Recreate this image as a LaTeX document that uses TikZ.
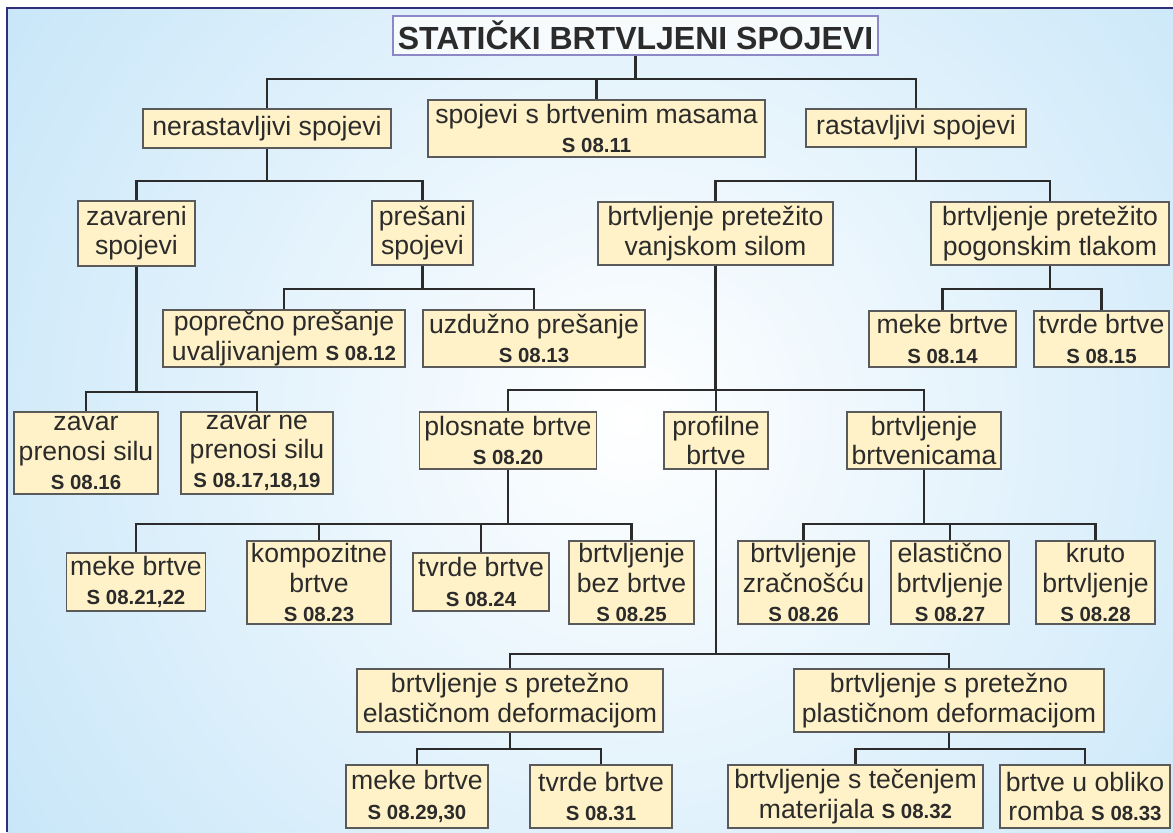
\documentclass[tikz,border=0pt]{standalone}
\usepackage{fontspec}
\setmainfont{Liberation Sans}
\usepackage{xcolor}
\usepackage{tikz}
\definecolor{bkcream}{HTML}{FFF2C8}
\definecolor{bkink}{HTML}{2B2B2B}
\definecolor{bkedge}{HTML}{5A5A5A}
\definecolor{bksky}{HTML}{A0D4F4}
\definecolor{bkframe}{HTML}{2E2E7A}
\definecolor{bktitle}{HTML}{8C88C8}
\newcommand\sref[1]{{\fontsize{10.2}{10}\selectfont\bfseries #1}}
\tikzset{
  bbox/.style 2 args={rectangle, draw=bkedge, fill=bkcream, line width=0.75pt, text=bkink, align=center, inner sep=0pt,
    minimum width=#1*0.5pt, minimum height=#2*0.5pt, font=\fontsize{13.3}{14.6}\selectfont},
  tbox/.style={rectangle, draw=bktitle, fill=white, fill opacity=0.75, text opacity=1, line width=1pt, text=bkink, inner sep=0pt,
    minimum width=242.5pt, minimum height=19.5pt, font=\fontsize{16}{17}\selectfont\bfseries},
  btie/.style={draw=bkink, line width=1.25pt}
}

\begin{document}
\begin{tikzpicture}[x=0.5pt, y=-0.5pt]
  \useasboundingbox (0,0) rectangle (1173,832);
  % background
  \begin{scope}
    \clip (7,8) rectangle (1173,832);
    \shade[inner color=white, outer color=bksky] (-670,-880) rectangle (1930,1720);
  \end{scope}
  \draw[bkframe, line width=0.9pt] (7,832) -- (7,8) -- (1173,8);
  % level 0 and 1
  \node[tbox] (title) at (635.5,35.5) {STATIČKI BRTVLJENI SPOJEVI};
  \node[bbox={248}{39}] (neras) at (267,128.5) {nerastavljivi spojevi};
  \node[bbox={337}{57}] (masama) at (596.5,128.5) {spojevi s brtvenim masama\\\sref{S 08.11}};
  \node[bbox={220}{38}] (rast) at (916,128) {rastavljivi spojevi};
  % level 2
  \node[bbox={117}{65}] (zav) at (136.5,233.5) {zavareni\\spojevi};
  \node[bbox={101}{64}] (pres) at (422.5,233) {prešani\\spojevi};
  \node[bbox={235}{63}] (vanj) at (715.5,233.5) {brtvljenje pretežito\\vanjskom silom};
  \node[bbox={238}{63}] (pogon) at (1050,233.5) {brtvljenje pretežito\\pogonskim tlakom};
  % level 3
  \node[bbox={242}{57}] (popr) at (284,338.5) {poprečno prešanje\\uvaljivanjem \sref{S 08.12}};
  \node[bbox={222}{57}] (uzd) at (534,338.5) {uzdužno prešanje\\\sref{S 08.13}};
  \node[bbox={147}{56}] (mekeA) at (942.5,339) {meke brtve\\\sref{S 08.14}};
  \node[bbox={135}{56}] (tvrdeA) at (1101.5,339) {tvrde brtve\\\sref{S 08.15}};
  \node[bbox={144}{82}] (zavp) at (86,453) {zavar\\prenosi silu\\\sref{S 08.16}};
  \node[bbox={152}{82}] (zavn) at (257,453) {zavar ne\\prenosi silu\\\sref{S 08.17,18,19}};
  \node[bbox={177}{57}] (plos) at (508,440.5) {plosnate brtve\\\sref{S 08.20}};
  \node[bbox={104}{57}] (prof) at (716,440.5) {profilne\\brtve};
  \node[bbox={154}{57}] (brtven) at (924,440.5) {brtvljenje\\brtvenicama};
  % level 4
  \node[bbox={139}{58}] (mekeB) at (136,582) {meke brtve\\\sref{S 08.21,22}};
  \node[bbox={144}{83}] (komp) at (319,582.5) {kompozitne\\brtve\\\sref{S 08.23}};
  \node[bbox={136}{58}] (tvrdeB) at (481,582) {tvrde brtve\\\sref{S 08.24}};
  \node[bbox={125}{83}] (bez) at (631.5,582.5) {brtvljenje\\bez brtve\\\sref{S 08.25}};
  \node[bbox={131}{83}] (zrac) at (803.5,582.5) {brtvljenje\\zračnošću\\\sref{S 08.26}};
  \node[bbox={118}{83}] (elast) at (950,582.5) {elastično\\brtvljenje\\\sref{S 08.27}};
  \node[bbox={119}{83}] (kruto) at (1095.5,582.5) {kruto\\brtvljenje\\\sref{S 08.28}};
  % level 5
  \node[bbox={306}{63}] (eldef) at (510,700.5) {brtvljenje s pretežno\\elastičnom deformacijom};
  \node[bbox={310}{63}] (pldef) at (949,700.5) {brtvljenje s pretežno\\plastičnom deformacijom};
  \node[bbox={142}{63}] (mekeC) at (417,796.5) {meke brtve\\\sref{S 08.29,30}};
  \node[bbox={142}{63}] (tvrdeC) at (601,796.5) {tvrde brtve\\\sref{S 08.31}};
  \node[bbox={255}{63}] (tec) at (855.5,796.5) {brtvljenje s tečenjem\\materijala \sref{S 08.32}};
  \node[bbox={170}{63}] (romba) at (1085,796.5) {brtve u obliko\\romba \sref{S 08.33}};
  % ties
  \foreach \c in {neras,masama,rast}
    \draw[btie] (title.south) -- ++(0,23) -| (\c.north);
  \foreach \c in {zav,pres}
    \draw[btie] (neras.south) -- ++(0,32) -| (\c.north);
  \foreach \c in {vanj,pogon}
    \draw[btie] (rast.south) -- ++(0,33) -| (\c.north);
  \foreach \c in {zavp,zavn}
    \draw[btie] (zav.south) -- ++(0,125) -| (\c.north);
  \foreach \c in {popr,uzd}
    \draw[btie] (pres.south) -- ++(0,23) -| (\c.north);
  \foreach \c in {mekeA,tvrdeA}
    \draw[btie] (pogon.south) -- ++(0,23) -| (\c.north);
  \foreach \c in {plos,prof,brtven}
    \draw[btie] (vanj.south) -- ++(0,124) -| (\c.north);
  \foreach \c in {mekeB,komp,tvrdeB,bez}
    \draw[btie] (plos.south) -- ++(0,54) -| (\c.north);
  \foreach \c in {zrac,elast,kruto}
    \draw[btie] (brtven.south) -- ++(0,54) -| (\c.north);
  \foreach \c in {eldef,pldef}
    \draw[btie] (prof.south) -- ++(0,184) -| (\c.north);
  \foreach \c in {mekeC,tvrdeC}
    \draw[btie] (eldef.south) -- ++(0,16) -| (\c.north);
  \foreach \c in {tec,romba}
    \draw[btie] (pldef.south) -- ++(0,16) -| (\c.north);
\end{tikzpicture}
\end{document}
